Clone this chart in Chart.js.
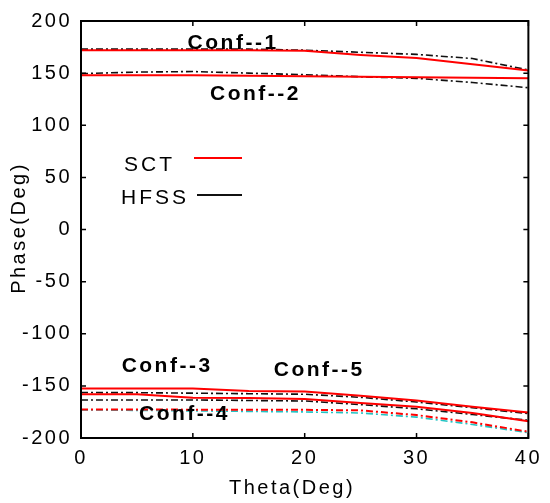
<!DOCTYPE html>
<html>
<head>
<meta charset="utf-8">
<script src="https://cdn.jsdelivr.net/npm/chart.js@4"></script>
<style>
  body { margin: 0; background: #fff; }
  #wrap { width: 550px; height: 503px; }
</style>
</head>
<body>
<div id="wrap"><canvas id="phaseChart" width="550" height="503"></canvas></div>
<script>
// Theta samples (deg)
const theta = [0, 5, 10, 15, 20, 25, 30, 35, 40];

// SCT results
const sctConf1 = [172, 172, 172, 172, 171.5, 167.5, 164.5, 158.5, 152.5];
const sctConf2 = [148, 148, 148, 147.5, 147, 146.5, 146, 145.5, 145];
const sctConf3 = [-152.6, -152.6, -152.6, -154.8, -155.5, -159.5, -164, -170, -175.5];
const sctConf4 = [-172.7, -172.7, -172.8, -173, -173, -173.5, -178, -185, -194];
const sctConf5 = [-158, -158, -161.5, -161.7, -162.5, -166.5, -170, -176, -184];

// HFSS results
const hfssConf1 = [173, 173, 173, 173, 172, 170, 168, 164, 153];
const hfssConf2 = [149.5, 151, 151.5, 150, 148.5, 146.5, 145, 141, 136];
const hfssConf3 = [-156.4, -156.5, -157, -157.5, -158, -161, -165.5, -171, -176.5];
const hfssConf4 = [-173, -173.5, -174, -174.5, -175, -176, -180, -187, -195];
const hfssConf5 = [-163.6, -163.5, -163.5, -164, -164.5, -168, -172, -177.5, -183];

// Curve labels: [text, theta, phase]
const confLabels = [
  ['Conf--1', 13.6, 179],
  ['Conf--2', 15.6, 129.5],
  ['Conf--3', 7.7, -131],
  ['Conf--5', 21.3, -135],
  ['Conf--4', 9.25, -177.5]
];

const xTicks = [0, 10, 20, 30, 40];
const yTicks = [-200, -150, -100, -50, 0, 50, 100, 150, 200];

const FONT = '"Liberation Sans", Arial, sans-serif';
const dashDot = [7, 3, 2, 3];

function pts(vals) {
  return theta.map((t, i) => ({ x: t, y: vals[i] }));
}

function sct(vals, dash) {
  return { label: 'SCT', data: pts(vals), borderColor: '#ff0000', borderWidth: 2,
           borderDash: dash || [], pointRadius: 0, fill: false, tension: 0, order: 0 };
}
function hfss(vals, color) {
  return { label: 'HFSS', data: pts(vals), borderColor: color || '#111111', borderWidth: 1.6,
           borderDash: dashDot, pointRadius: 0, fill: false, tension: 0, order: 1 };
}

// frame, inward ticks, titles, legend and curve labels
const decor = {
  id: 'decor',
  beforeUpdate(chart) { chart.ctx.letterSpacing = '2.5px'; },
  beforeDraw(chart) { chart.ctx.letterSpacing = '2.5px'; },
  afterDraw(chart) {
    const ctx = chart.ctx;
    const a = chart.chartArea;
    const xs = chart.scales.x, ys = chart.scales.y;
    ctx.save();
    ctx.strokeStyle = '#000';
    ctx.lineWidth = 2;
    ctx.strokeRect(a.left, a.top, a.right - a.left, a.bottom - a.top);
    ctx.lineWidth = 1.5;
    ctx.beginPath();
    xTicks.forEach(v => {
      const px = xs.getPixelForValue(v);
      ctx.moveTo(px, a.bottom); ctx.lineTo(px, a.bottom - 5);
      ctx.moveTo(px, a.top); ctx.lineTo(px, a.top + 5);
    });
    yTicks.forEach(v => {
      const py = ys.getPixelForValue(v);
      ctx.moveTo(a.left, py); ctx.lineTo(a.left + 5, py);
      ctx.moveTo(a.right, py); ctx.lineTo(a.right - 5, py);
    });
    ctx.stroke();

    // axis titles
    ctx.fillStyle = '#000';
    ctx.letterSpacing = '2.5px';
    ctx.font = '20px ' + FONT;
    ctx.textAlign = 'center';
    ctx.textBaseline = 'middle';
    ctx.fillText('Theta(Deg)', 292, 488);
    ctx.save();
    ctx.translate(19, 228);
    ctx.rotate(-Math.PI / 2);
    ctx.fillText('Phase(Deg)', 0, 0);
    ctx.restore();

    // legend
    ctx.textAlign = 'left';
    ctx.font = '21px ' + FONT;
    ctx.letterSpacing = '3px';
    ctx.fillText('SCT', 124, 165);
    ctx.fillText('HFSS', 121, 198);
    ctx.lineWidth = 2;
    ctx.strokeStyle = '#ff0000';
    ctx.beginPath(); ctx.moveTo(194, 158); ctx.lineTo(242, 158); ctx.stroke();
    ctx.strokeStyle = '#111';
    ctx.beginPath(); ctx.moveTo(197, 195); ctx.lineTo(242, 195); ctx.stroke();

    // curve labels
    ctx.textAlign = 'center';
    ctx.font = 'bold 21px ' + FONT;
    ctx.letterSpacing = '2.5px';
    confLabels.forEach(([t, x, y]) => {
      ctx.fillText(t, xs.getPixelForValue(x), ys.getPixelForValue(y));
    });
    ctx.restore();
  }
};

new Chart(document.getElementById('phaseChart'), {
  type: 'line',
  data: {
    datasets: [
      sct(sctConf1), sct(sctConf2), sct(sctConf3), sct(sctConf5), sct(sctConf4, dashDot),
      hfss(hfssConf1), hfss(hfssConf2), hfss(hfssConf3), hfss(hfssConf5), hfss(hfssConf4, '#22c4c4')
    ]
  },
  options: {
    responsive: false,
    animation: false,
    layout: { padding: { top: 13, right: 14, left: 0, bottom: 0 } },
    plugins: { legend: { display: false }, tooltip: { enabled: false } },
    scales: {
      x: {
        type: 'linear', min: 0, max: 40,
        afterBuildTicks: s => { s.ticks = xTicks.map(v => ({ value: v })); },
        afterFit: s => { s.height = 65; },
        grid: { display: false, drawTicks: false },
        border: { display: false },
        ticks: { color: '#000', padding: 8, font: { family: FONT, size: 20 }, maxRotation: 0 }
      },
      y: {
        type: 'linear', min: -200, max: 200,
        afterBuildTicks: s => { s.ticks = yTicks.map(v => ({ value: v })); },
        afterFit: s => { s.width = 81; },
        grid: { display: false, drawTicks: false },
        border: { display: false },
        ticks: { color: '#000', padding: 9, font: { family: FONT, size: 20 } }
      }
    }
  },
  plugins: [decor]
});
</script>
</body>
</html>
